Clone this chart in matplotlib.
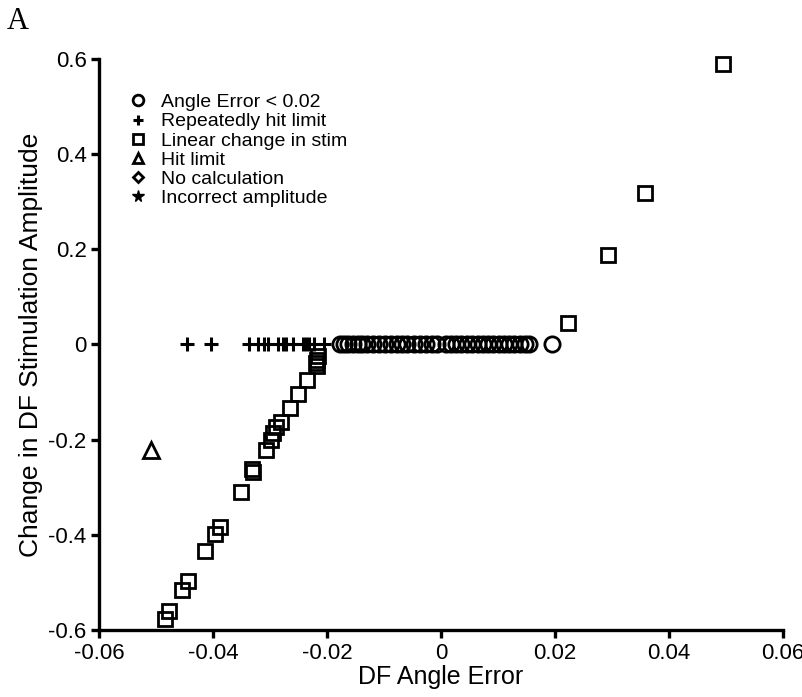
import numpy as np
import matplotlib
matplotlib.use("Agg")
import matplotlib.pyplot as plt

plt.rcParams['font.family'] = ['Liberation Sans', 'DejaVu Sans']

# Angle Error < 0.02 (all at zero change)
circle_x = [-0.0177, -0.0170, -0.0163, -0.0154, -0.0146, -0.0139, -0.0130, -0.0119,
            -0.0109, -0.0098, -0.0088, -0.0077, -0.0068, -0.0060, -0.0047, -0.0037,
            -0.0026, -0.0016, -0.0007, 0.0009, 0.0018, 0.0026, 0.0035, 0.0046,
            0.0054, 0.0065, 0.0074, 0.0082, 0.0091, 0.0102, 0.0111, 0.0119,
            0.0128, 0.0139, 0.0147, 0.0154, 0.0195]
circle_y = [0.0] * len(circle_x)

# Repeatedly hit limit
plus_x = [-0.0446, -0.0404, -0.0337, -0.0321, -0.0311, -0.0304, -0.0286, -0.0277,
          -0.0272, -0.0260, -0.0242, -0.0237, -0.0232, -0.0223, -0.0205]
plus_y = [0.0] * len(plus_x)

# Linear change in stim
square_x = [-0.0484, -0.0477, -0.0454, -0.0444, -0.0414, -0.0396, -0.0388, -0.0351,
            -0.0332, -0.0330, -0.0307, -0.0298, -0.0295, -0.0290, -0.0281, -0.0265,
            -0.0251, -0.0235, -0.0217, -0.0220, -0.0218, -0.0215,
            0.0223, 0.0293, 0.0358, 0.0495]
square_y = [-0.577, -0.560, -0.516, -0.497, -0.434, -0.398, -0.383, -0.309,
            -0.262, -0.267, -0.221, -0.200, -0.187, -0.173, -0.162, -0.133,
            -0.105, -0.074, -0.045, -0.038, -0.032, -0.025,
            0.046, 0.189, 0.318, 0.590]

# Hit limit
tri_x = [-0.0509]
tri_y = [-0.221]

# No calculation / Incorrect amplitude (legend only)
diamond_x, diamond_y = [], []
star_x, star_y = [], []

fig = plt.figure(figsize=(8.03, 6.97), dpi=100)
ax = fig.add_axes([0.1233, 0.0961, 0.8517, 0.8193])

mk = dict(linestyle='none', markerfacecolor='none', markeredgecolor='black',
          color='black', clip_on=False)
ax.plot(circle_x, circle_y, marker='o', markersize=11, markeredgewidth=2.0,
        label='Angle Error < 0.02', **mk)
ax.plot(plus_x, plus_y, marker='+', markersize=10, markeredgewidth=2.2,
        label='Repeatedly hit limit', **mk)
ax.plot(square_x, square_y, marker='s', markersize=9.5, markeredgewidth=2.0,
        label='Linear change in stim', **mk)
ax.plot(tri_x, tri_y, marker='^', markersize=11, markeredgewidth=2.0,
        label='Hit limit', **mk)
ax.plot(diamond_x, diamond_y, marker='D', markersize=7, markeredgewidth=2.0,
        label='No calculation', **mk)
ax.plot(star_x, star_y, marker='*', markersize=12, color='black', linestyle='none',
        label='Incorrect amplitude')

ax.set_xlim(-0.06, 0.06)
ax.set_ylim(-0.6, 0.6)
ax.set_xticks([-0.06, -0.04, -0.02, 0, 0.02, 0.04, 0.06])
ax.set_xticklabels(['-0.06', '-0.04', '-0.02', '0', '0.02', '0.04', '0.06'])
ax.set_yticks([-0.6, -0.4, -0.2, 0, 0.2, 0.4, 0.6])
ax.set_yticklabels(['-0.6', '-0.4', '-0.2', '0', '0.2', '0.4', '0.6'])

for s in ['top', 'right']:
    ax.spines[s].set_visible(False)
for s in ['left', 'bottom']:
    ax.spines[s].set_linewidth(2.4)
ax.tick_params(direction='out', length=6, width=2.4, labelsize=16, pad=3)

ax.set_xlabel('DF Angle Error', fontsize=18, labelpad=1)
ax.set_ylabel('Change in DF Stimulation Amplitude', fontsize=19, labelpad=4)

leg = ax.legend(loc='upper left', bbox_to_anchor=(0.02, 0.97), frameon=False,
                fontsize=14, handlelength=0.8, handletextpad=0.8, labelspacing=0.08,
                markerscale=0.7)

fig.text(0.008, 0.99, 'A', fontsize=22, family='Liberation Serif', va='top', ha='left')

fig.savefig('out.png', dpi=100)
